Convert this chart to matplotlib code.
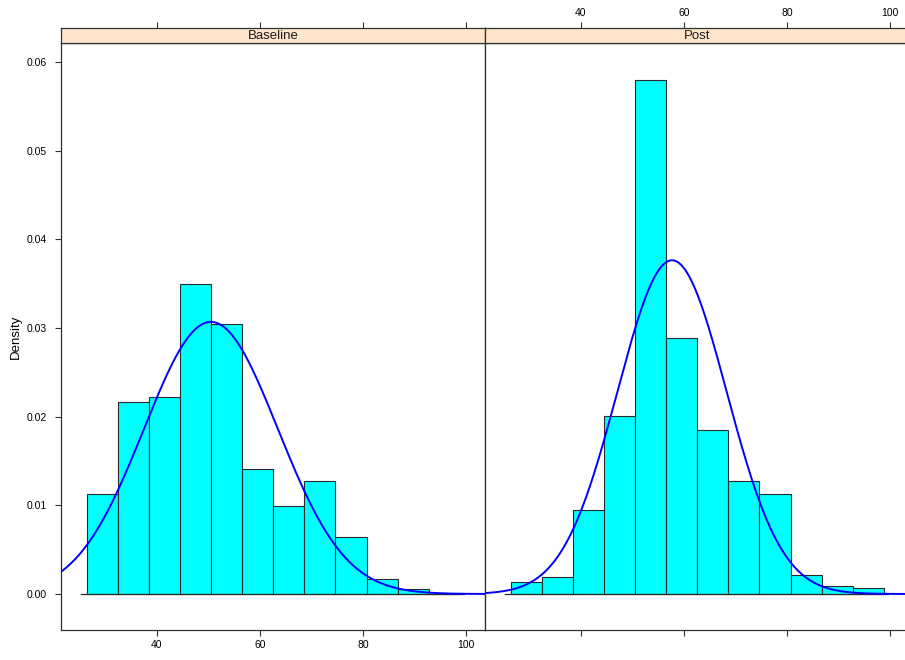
import numpy as np
import matplotlib
matplotlib.use("Agg")
import matplotlib.pyplot as plt

plt.rcParams['font.family'] = ['Liberation Sans', 'DejaVu Sans']

# ---- data ----
panels = ["Baseline", "Post"]
breaks = [26.35 + 6.04 * k for k in range(13)]
baseline_density = [0.01124, 0.02162, 0.02222, 0.03496, 0.03041, 0.01406,
                    0.00989, 0.01271, 0.00646, 0.00169, 0.00060, 0.0]
post_density = [0.00132, 0.00188, 0.00945, 0.02008, 0.05800, 0.02890,
                0.01854, 0.01273, 0.01127, 0.00218, 0.00087, 0.00064]
normal_mean = [50.5, 57.7]
normal_sd = [13.0, 10.6]
x_ticks = [40, 60, 80, 100]
y_ticks = [0.00, 0.01, 0.02, 0.03, 0.04, 0.05, 0.06]
xlim = (21.4, 103.7)
ylim = (-0.00406, 0.06214)

W, H = 905, 660
fig = plt.figure(figsize=(W / 100, H / 100), dpi=100)

frame_col = "#303030"
densities = [baseline_density, post_density]

panel_left_px = [61, 485]
panel_w_px = 424
top_px, strip_h_px, bottom_px = 28, 15, 630

for i, name in enumerate(panels):
    left = panel_left_px[i] / W
    width = panel_w_px / W
    ax_bottom = 1 - bottom_px / H
    ax_height = (bottom_px - top_px - strip_h_px) / H
    ax = fig.add_axes([left, ax_bottom, width, ax_height])
    edges = np.array(breaks)
    dens = np.array(densities[i])
    ax.bar(edges[:-1], dens, width=np.diff(edges), align='edge',
           color='#00FFFF', edgecolor='#2a2a2a', linewidth=0.8, zorder=2)
    ax.plot([edges[0] - 1, edges[-1] + 0.8], [0, 0], color='#2a2a2a',
            linewidth=0.9, zorder=2)
    xs = np.linspace(xlim[0], xlim[1], 400)
    m, s = normal_mean[i], normal_sd[i]
    ys = np.exp(-0.5 * ((xs - m) / s) ** 2) / (s * np.sqrt(2 * np.pi))
    ax.plot(xs, ys, color='#0000FF', linewidth=1.4, zorder=3)
    ax.set_xlim(*xlim)
    ax.set_ylim(*ylim)
    for sp in ax.spines.values():
        sp.set_color(frame_col)
        sp.set_linewidth(0.9)
    ax.set_xticks(x_ticks)
    ax.set_xticklabels([str(t) for t in x_ticks])
    if i == 0:
        ax.tick_params(axis='x', which='both', bottom=True, labelbottom=True,
                       top=False, labeltop=False, direction='out', length=4.5,
                       width=0.8, color=frame_col, labelsize=7.5, pad=3)
        ax.set_yticks(y_ticks)
        ax.set_yticklabels([f"{t:.2f}" for t in y_ticks])
        ax.tick_params(axis='y', left=True, labelleft=True, right=False,
                       direction='out', length=4.5, width=0.8, color=frame_col,
                       labelsize=7.5, pad=6)
        ax.set_ylabel("Density", fontsize=9.5, labelpad=3)
    else:
        ax.tick_params(axis='x', which='both', bottom=True, labelbottom=False,
                       top=False, labeltop=False, direction='out', length=4.5,
                       width=0.8, color=frame_col)
        ax.set_yticks([])
    # strip on top
    sax = fig.add_axes([left, 1 - (top_px + strip_h_px) / H, width, strip_h_px / H])
    sax.set_facecolor('#FFE5CC')
    sax.set_xlim(*xlim)
    sax.set_yticks([])
    for sp in sax.spines.values():
        sp.set_color(frame_col)
        sp.set_linewidth(0.9)
    sax.text(0.5, 0.45, name, transform=sax.transAxes, ha='center', va='center',
             fontsize=9.5, color='#1a1a1a')
    sax.set_xticks(x_ticks)
    sax.set_xticklabels([str(t) for t in x_ticks])
    sax.tick_params(axis='x', bottom=False, labelbottom=False, top=True,
                    labeltop=(i == 1), direction='out', length=4.5, width=0.8,
                    color=frame_col, labelsize=7.5, pad=3)

fig.savefig("out.png", dpi=100)
